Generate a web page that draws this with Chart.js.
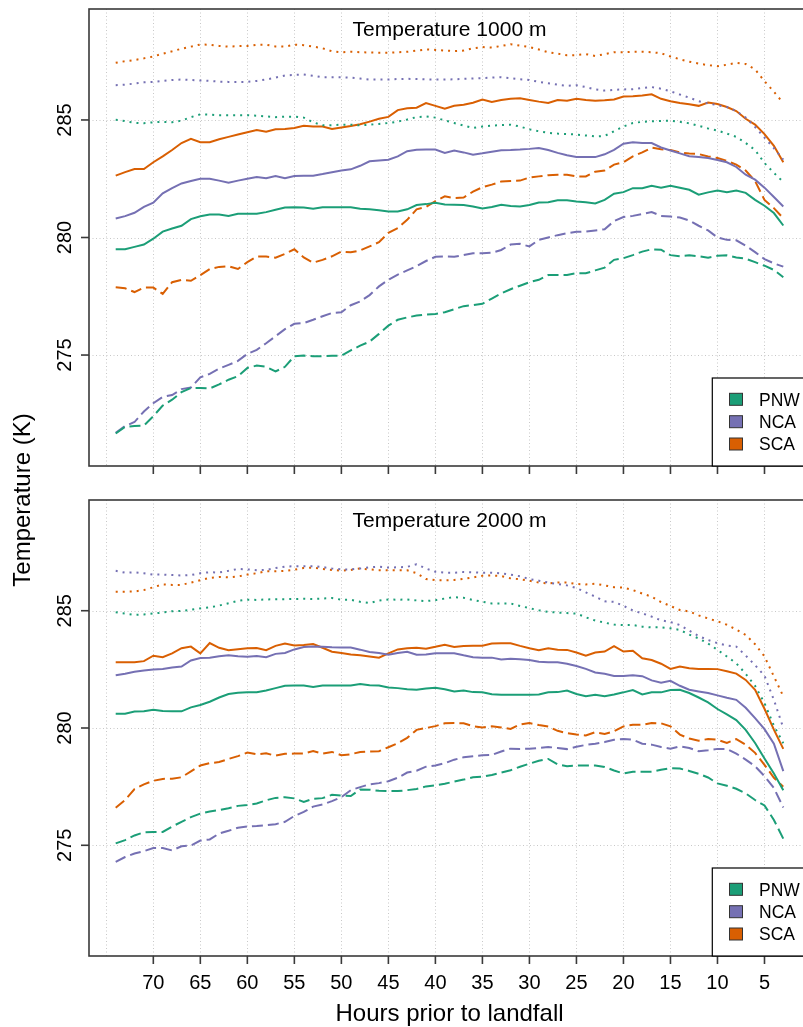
<!DOCTYPE html>
<html>
<head>
<meta charset="utf-8">
<title>Temperature prior to landfall</title>
<script src="https://cdn.jsdelivr.net/npm/chart.js@4.4.1/dist/chart.umd.min.js"></script>
<style>
  body { margin: 0; width: 803px; height: 1027px; overflow: hidden; background: #fff; position: relative; }
  canvas { position: absolute; left: 0; top: 0; }
</style>
</head>
<body>
<canvas id="panel1000" width="812" height="1027"></canvas>
<canvas id="panel2000" width="812" height="1027"></canvas>
<script>
// hours prior to landfall (x values)
var hours = [74,73,72,71,70,69,68,67,66,65, 64,63,62,61,60,59,58,57,56,55,
             54,53,52,51,50,49,48,47,46,45, 44,43,42,41,40,39,38,37,36,35,
             34,33,32,31,30,29,28,27,26,25, 24,23,22,21,20,19,18,17,16,15,
             14,13,12,11,10,9,8,7,6,5, 4,3];
var gridHours = [75,70,65,60,55,50,45,40,35,30,25,20,15,10,5,0];
var tickHours = [70,65,60,55,50,45,40,35,30,25,20,15,10,5];
var tempTicks = [275,280,285];
var regions = ['PNW','NCA','SCA'];
var panelTitles = ['Temperature 1000 m','Temperature 2000 m'];

// ---- 1000 m ----
var pnw1000Upper = [285.01,284.95,284.88,284.86,284.9,284.92,284.9,284.97,285.12,285.24,
  285.23,285.2,285.2,285.2,285.2,285.18,285.15,285.12,285.14,285.14,
  285.1,284.9,284.77,284.78,284.8,284.8,284.77,284.8,284.83,284.87,
  284.93,285.02,285.12,285.15,285.1,284.98,284.87,284.76,284.66,284.72,
  284.76,284.78,284.8,284.72,284.6,284.52,284.45,284.42,284.4,284.38,
  284.34,284.3,284.32,284.52,284.72,284.87,284.92,284.94,284.96,284.97,
  284.92,284.86,284.75,284.64,284.55,284.42,284.28,284.02,283.72,283.17,
  282.75,282.36];
var nca1000Upper = [286.48,286.5,286.55,286.6,286.62,286.66,286.7,286.72,286.7,286.68,
  286.66,286.63,286.62,286.62,286.62,286.66,286.72,286.8,286.89,286.92,
  286.93,286.88,286.82,286.82,286.82,286.8,286.76,286.72,286.72,286.72,
  286.74,286.75,286.74,286.73,286.72,286.72,286.73,286.75,286.76,286.78,
  286.8,286.82,286.78,286.73,286.7,286.62,286.56,286.5,286.45,286.48,
  286.4,286.3,286.25,286.28,286.3,286.31,286.36,286.4,286.33,286.22,
  286.08,285.95,285.8,285.7,285.63,285.55,285.38,285.1,284.7,284.25,
  283.8,283.31];
var sca1000Upper = [287.43,287.5,287.55,287.62,287.7,287.82,287.92,288.03,288.12,288.21,
  288.2,288.15,288.12,288.14,288.15,288.2,288.2,288.13,288.12,288.2,
  288.18,288.12,288.05,287.92,287.88,287.9,287.88,287.87,287.86,287.86,
  287.88,287.9,287.95,288.0,287.98,287.95,287.93,287.95,288.05,288.1,
  288.08,288.15,288.22,288.16,288.1,288.0,287.88,287.82,287.75,287.76,
  287.8,287.72,287.8,287.88,287.88,287.9,287.9,287.88,287.84,287.7,
  287.58,287.48,287.4,287.33,287.29,287.35,287.43,287.38,287.15,286.65,
  286.2,285.72];
var pnw1000Mid = [279.5,279.5,279.6,279.7,279.95,280.25,280.38,280.5,280.78,280.9,
  280.98,280.98,280.92,281.01,281.01,281.01,281.08,281.18,281.28,281.29,
  281.28,281.22,281.29,281.29,281.29,281.29,281.22,281.2,281.16,281.11,
  281.11,281.2,281.38,281.42,281.48,281.4,281.39,281.38,281.32,281.23,
  281.3,281.39,281.34,281.32,281.38,281.49,281.5,281.58,281.58,281.53,
  281.5,281.45,281.6,281.86,281.93,282.1,282.1,282.2,282.12,282.2,
  282.12,282.03,281.82,281.92,282.0,281.93,282.0,281.9,281.6,281.35,
  281.04,280.51];
var nca1000Mid = [280.81,280.91,281.05,281.3,281.48,281.88,282.1,282.3,282.4,282.5,
  282.5,282.42,282.33,282.42,282.5,282.57,282.52,282.62,282.52,282.62,
  282.63,282.63,282.7,282.78,282.85,282.9,283.05,283.24,283.28,283.31,
  283.45,283.67,283.73,283.74,283.74,283.6,283.7,283.62,283.52,283.58,
  283.65,283.71,283.72,283.74,283.77,283.81,283.72,283.6,283.5,283.42,
  283.42,283.42,283.54,283.73,283.99,284.05,284.02,284.02,283.83,283.7,
  283.58,283.46,283.42,283.38,283.3,283.2,283.0,282.67,282.46,282.12,
  281.72,281.32];
var sca1000Mid = [282.63,282.78,282.91,282.91,283.2,283.45,283.72,284.02,284.2,284.05,
  284.05,284.18,284.28,284.38,284.48,284.57,284.5,284.6,284.62,284.66,
  284.75,284.72,284.72,284.62,284.68,284.74,284.82,284.93,285.05,285.13,
  285.42,285.5,285.52,285.72,285.6,285.48,285.6,285.65,285.73,285.87,
  285.77,285.85,285.9,285.92,285.85,285.78,285.72,285.85,285.82,285.9,
  285.85,285.82,285.84,285.87,286.0,286.01,286.04,286.09,285.9,285.8,
  285.72,285.67,285.6,285.74,285.68,285.55,285.38,285.05,284.8,284.4,
  283.9,283.2];
var pnw1000Lower = [271.66,271.95,271.98,272.0,272.4,272.85,273.1,273.42,273.6,273.6,
  273.58,273.75,273.95,274.1,274.45,274.55,274.5,274.3,274.5,274.95,
  274.98,274.95,274.95,274.97,274.97,275.2,275.4,275.57,275.9,276.25,
  276.5,276.6,276.68,276.72,276.75,276.82,276.95,277.08,277.12,277.18,
  277.4,277.62,277.8,277.95,278.1,278.2,278.4,278.41,278.41,278.48,
  278.48,278.6,278.72,279.05,279.12,279.25,279.4,279.5,279.48,279.25,
  279.2,279.24,279.2,279.14,279.22,279.24,279.15,279.1,278.95,278.8,
  278.62,278.31];
var nca1000Lower = [271.69,271.98,272.15,272.6,272.95,273.22,273.3,273.55,273.62,274.05,
  274.2,274.42,274.58,274.75,275.05,275.22,275.5,275.8,276.1,276.33,
  276.36,276.5,276.65,276.79,276.82,277.12,277.28,277.55,277.92,278.2,
  278.42,278.6,278.78,279.0,279.18,279.19,279.18,279.25,279.33,279.33,
  279.35,279.47,279.7,279.73,279.62,279.9,280.0,280.1,280.18,280.24,
  280.25,280.3,280.35,280.7,280.87,280.92,281.0,281.08,280.92,280.89,
  280.85,280.72,280.5,280.3,280.0,279.9,279.88,279.65,279.38,279.08,
  278.9,278.76];
var sca1000Lower = [277.88,277.84,277.68,277.87,277.87,277.6,278.1,278.2,278.16,278.4,
  278.66,278.75,278.78,278.66,278.95,279.19,279.19,279.14,279.3,279.5,
  279.15,278.93,279.05,279.2,279.4,279.37,279.45,279.62,279.8,280.2,
  280.4,280.75,281.2,281.3,281.55,281.75,281.68,281.7,281.95,282.14,
  282.25,282.38,282.4,282.42,282.55,282.6,282.65,282.67,282.67,282.6,
  282.6,282.8,282.85,283.1,283.2,283.45,283.62,283.82,283.75,283.72,
  283.62,283.57,283.55,283.45,283.38,283.26,283.1,282.85,282.4,281.6,
  281.25,280.82];

// ---- 2000 m ----
var pnw2000Upper = [284.93,284.88,284.82,284.84,284.88,284.92,284.98,284.99,285.04,285.1,
  285.14,285.22,285.32,285.42,285.47,285.46,285.48,285.49,285.49,285.5,
  285.51,285.5,285.52,285.54,285.47,285.47,285.38,285.33,285.43,285.48,
  285.47,285.48,285.44,285.41,285.45,285.52,285.58,285.55,285.46,285.38,
  285.31,285.31,285.31,285.2,285.11,285.02,284.95,284.92,284.9,284.88,
  284.72,284.58,284.49,284.41,284.39,284.39,284.32,284.29,284.29,284.25,
  284.18,283.98,283.82,283.6,283.33,283.05,282.76,282.31,281.8,281.06,
  280.1,279.35];
var nca2000Upper = [286.7,286.62,286.64,286.6,286.54,286.54,286.52,286.5,286.52,286.6,
  286.64,286.63,286.7,286.78,286.76,286.73,286.74,286.82,286.88,286.9,
  286.9,286.9,286.86,286.8,286.76,286.76,286.8,286.85,286.88,286.84,
  286.85,286.87,286.98,286.8,286.66,286.62,286.62,286.65,286.64,286.62,
  286.62,286.59,286.54,286.47,286.35,286.28,286.2,286.14,286.08,285.97,
  285.78,285.6,285.4,285.38,285.21,285.01,284.89,284.75,284.59,284.52,
  284.39,284.15,283.92,283.75,283.62,283.52,283.47,283.09,282.68,282.23,
  281.2,280.0];
var sca2000Upper = [285.81,285.81,285.82,285.88,286.0,286.12,286.1,286.1,286.2,286.3,
  286.4,286.44,286.42,286.46,286.54,286.6,286.68,286.68,286.7,286.75,
  286.82,286.84,286.78,286.74,286.71,286.74,286.8,286.76,286.73,286.72,
  286.72,286.72,286.6,286.35,286.3,286.3,286.31,286.36,286.42,286.49,
  286.5,286.48,286.38,286.34,286.28,286.2,286.16,286.2,286.2,286.14,
  286.12,286.15,286.08,286.0,285.99,285.88,285.73,285.6,285.37,285.2,
  285.03,284.97,284.8,284.67,284.55,284.4,284.2,283.97,283.57,283.05,
  282.2,281.35];
var pnw2000Mid = [280.61,280.61,280.7,280.71,280.78,280.72,280.71,280.71,280.88,280.98,
  281.12,281.3,281.45,281.5,281.52,281.52,281.6,281.7,281.8,281.81,
  281.81,281.75,281.81,281.81,281.81,281.81,281.88,281.82,281.81,281.73,
  281.7,281.65,281.63,281.68,281.72,281.65,281.56,281.6,281.53,281.52,
  281.44,281.42,281.42,281.42,281.42,281.43,281.52,281.53,281.6,281.45,
  281.35,281.42,281.35,281.43,281.52,281.62,281.43,281.52,281.52,281.62,
  281.63,281.49,281.3,281.09,280.81,280.58,280.34,279.92,279.36,278.7,
  278.06,277.35];
var nca2000Mid = [282.25,282.31,282.4,282.45,282.49,282.52,282.58,282.62,282.88,282.98,
  283.0,283.06,283.1,283.06,283.04,283.07,283.02,283.16,283.2,283.35,
  283.45,283.47,283.46,283.44,283.43,283.43,283.34,283.24,283.2,283.12,
  283.2,283.25,283.12,283.13,283.19,283.19,283.19,283.1,283.02,283.0,
  283.0,282.92,282.95,282.93,282.9,282.82,282.8,282.8,282.74,282.64,
  282.52,282.37,282.31,282.22,282.22,282.25,282.21,282.03,281.93,282.01,
  281.8,281.63,281.56,281.49,281.39,281.29,281.2,280.86,280.42,279.95,
  279.33,278.16];
var sca2000Mid = [282.8,282.8,282.8,282.85,283.08,283.02,283.18,283.4,283.47,283.18,
  283.62,283.42,283.32,283.36,283.4,283.41,283.32,283.5,283.6,283.52,
  283.54,283.58,283.42,283.25,283.2,283.13,283.1,283.05,283.0,283.18,
  283.35,283.4,283.42,283.38,283.46,283.55,283.45,283.5,283.51,283.51,
  283.6,283.61,283.61,283.5,283.4,283.32,283.4,283.34,283.33,283.22,
  283.08,283.22,283.26,283.49,283.26,283.29,282.97,282.9,282.74,282.52,
  282.62,282.55,282.52,282.52,282.51,282.42,282.32,282.05,281.63,280.82,
  279.93,279.11];
var pnw2000Lower = [275.08,275.22,275.42,275.55,275.57,275.57,275.8,276.0,276.2,276.35,
  276.44,276.5,276.58,276.68,276.72,276.78,276.92,277.02,277.05,277.0,
  276.85,276.98,277.01,277.15,277.12,277.1,277.38,277.37,277.32,277.31,
  277.31,277.35,277.4,277.51,277.55,277.62,277.72,277.8,277.9,277.92,
  278.0,278.1,278.2,278.35,278.48,278.6,278.68,278.45,278.37,278.4,
  278.4,278.4,278.34,278.19,278.06,278.13,278.13,278.13,278.22,278.29,
  278.27,278.17,278.05,277.89,277.64,277.54,277.41,277.21,276.93,276.7,
  276.08,275.28];
var nca2000Lower = [274.29,274.5,274.65,274.75,274.88,274.88,274.78,274.96,274.99,275.2,
  275.25,275.5,275.62,275.75,275.8,275.82,275.86,275.9,276.0,276.25,
  276.42,276.65,276.74,276.88,277.05,277.35,277.48,277.6,277.65,277.73,
  277.88,278.1,278.18,278.35,278.4,278.5,278.65,278.75,278.8,278.84,
  278.85,279.0,279.12,279.11,279.12,279.15,279.19,279.15,279.1,279.2,
  279.28,279.33,279.4,279.5,279.53,279.5,279.33,279.29,279.19,279.12,
  279.22,279.15,279.01,279.05,279.11,279.11,278.91,278.65,278.37,277.95,
  277.44,276.61];
var sca2000Lower = [276.6,276.93,277.4,277.6,277.75,277.83,277.84,277.9,278.15,278.4,
  278.5,278.55,278.68,278.8,278.95,278.88,278.92,278.82,278.9,278.91,
  278.91,279.02,278.91,278.98,278.84,278.88,278.98,279.0,279.01,279.18,
  279.35,279.58,279.92,280.0,280.08,280.2,280.21,280.2,280.08,280.02,
  280.07,280.02,279.96,280.15,280.21,280.13,280.06,279.88,279.78,279.72,
  279.68,279.82,279.75,279.86,280.07,280.14,280.14,280.21,280.2,280.07,
  279.72,279.55,279.46,279.53,279.5,279.36,279.53,279.29,278.94,278.43,
  277.88,277.5];

var colors = { PNW: '#1b9e77', NCA: '#7570b3', SCA: '#d95f02' };
var dashes = { upper: [2, 5], mid: [], lower: [11, 5] };
var FONT = '"Liberation Sans", Arial, Helvetica, sans-serif';

function series(region, kind, values) {
  return {
    label: region + ' ' + kind,
    data: hours.map(function(h, i) { return { x: h, y: values[i] }; }),
    borderColor: colors[region],
    borderWidth: 2,
    borderDash: dashes[kind],
    pointRadius: 0,
    tension: 0,
    fill: false
  };
}

function line(ctx, x1, y1, x2, y2) {
  ctx.beginPath();
  ctx.moveTo(x1, y1);
  ctx.lineTo(x2, y2);
  ctx.stroke();
}

// draws grid, frame, ticks, labels and legend for one panel
function panelPlugin(title, bottomPanel) {
  return {
    id: 'panel',
    beforeDatasetsDraw: function(chart) {
      var ctx = chart.ctx, a = chart.chartArea;
      var xs = chart.scales.x, ys = chart.scales.y;
      ctx.save();
      ctx.strokeStyle = '#c8c8c8';
      ctx.lineWidth = 1;
      ctx.setLineDash([1, 2.5]);
      gridHours.forEach(function(h) {
        var px = Math.round(xs.getPixelForValue(h)) + 0.5;
        line(ctx, px, a.top, px, a.bottom);
      });
      tempTicks.forEach(function(t) {
        var py = Math.round(ys.getPixelForValue(t)) + 0.5;
        line(ctx, a.left, py, a.right, py);
      });
      ctx.restore();
    },
    afterDraw: function(chart) {
      var ctx = chart.ctx, a = chart.chartArea;
      var xs = chart.scales.x, ys = chart.scales.y;
      var midX = (a.left + a.right) / 2;
      ctx.save();
      ctx.strokeStyle = '#3a3a3a';
      ctx.lineWidth = 1.6;
      ctx.strokeRect(a.left, a.top, a.right - a.left, a.bottom - a.top);
      tickHours.forEach(function(h) {
        var px = xs.getPixelForValue(h);
        line(ctx, px, a.bottom, px, a.bottom + 8);
      });
      tempTicks.forEach(function(t) {
        var py = ys.getPixelForValue(t);
        line(ctx, a.left - 8, py, a.left, py);
      });

      ctx.fillStyle = '#000';
      ctx.textAlign = 'center';
      ctx.textBaseline = 'alphabetic';
      ctx.font = '20px ' + FONT;
      tempTicks.forEach(function(t) {
        ctx.save();
        ctx.translate(a.left - 18.3, ys.getPixelForValue(t));
        ctx.rotate(-Math.PI / 2);
        ctx.fillText(String(t), 0, 0);
        ctx.restore();
      });

      ctx.font = '21px ' + FONT;
      ctx.fillText(title, midX, a.top + 26.7);

      // legend, bottom right of the plot
      var lx = 712.3, lh = 88;
      ctx.fillStyle = '#fff';
      ctx.fillRect(lx, a.bottom - lh, a.right - lx, lh);
      ctx.strokeStyle = '#000';
      ctx.lineWidth = 1.2;
      ctx.strokeRect(lx, a.bottom - lh, a.right - lx, lh);
      ctx.font = '17.5px ' + FONT;
      ctx.textAlign = 'left';
      var rowOffsets = [66.7, 44.3, 22];
      regions.forEach(function(r, i) {
        var cy = a.bottom - rowOffsets[i];
        ctx.fillStyle = colors[r];
        ctx.fillRect(729.5, cy - 6, 13, 12);
        ctx.strokeStyle = '#333';
        ctx.lineWidth = 1;
        ctx.strokeRect(729.5, cy - 6, 13, 12);
        ctx.fillStyle = '#000';
        ctx.fillText(r, 759, cy + 6.3);
      });

      if (bottomPanel) {
        ctx.textAlign = 'center';
        ctx.font = '20px ' + FONT;
        tickHours.forEach(function(h) {
          ctx.fillText(String(h), xs.getPixelForValue(h), a.bottom + 33);
        });
        ctx.font = '24px ' + FONT;
        ctx.fillText('Hours prior to landfall', midX, a.bottom + 64.5);
        ctx.save();
        ctx.translate(29.5, 500);
        ctx.rotate(-Math.PI / 2);
        ctx.fillText('Temperature (K)', 0, 0);
        ctx.restore();
      }
      ctx.restore();
    }
  };
}

function makePanel(canvasId, padding, title, sets, bottomPanel) {
  return new Chart(document.getElementById(canvasId), {
    type: 'line',
    data: { datasets: sets },
    options: {
      responsive: false,
      animation: false,
      devicePixelRatio: 1,
      layout: { padding: padding },
      scales: {
        x: { type: 'linear', reverse: true, min: 0.16, max: 76.84, display: false },
        y: { type: 'linear', min: 270.28, max: 289.72, display: false }
      },
      plugins: {
        legend: { display: false },
        tooltip: { enabled: false }
      }
    },
    plugins: [panelPlugin(title, bottomPanel)]
  });
}

makePanel('panel1000', { left: 89, right: 2, top: 9, bottom: 561 }, panelTitles[0], [
  series('PNW', 'upper', pnw1000Upper), series('NCA', 'upper', nca1000Upper), series('SCA', 'upper', sca1000Upper),
  series('PNW', 'mid', pnw1000Mid), series('NCA', 'mid', nca1000Mid), series('SCA', 'mid', sca1000Mid),
  series('PNW', 'lower', pnw1000Lower), series('NCA', 'lower', nca1000Lower), series('SCA', 'lower', sca1000Lower)
], false);

makePanel('panel2000', { left: 89, right: 2, top: 500, bottom: 71 }, panelTitles[1], [
  series('PNW', 'upper', pnw2000Upper), series('NCA', 'upper', nca2000Upper), series('SCA', 'upper', sca2000Upper),
  series('PNW', 'mid', pnw2000Mid), series('NCA', 'mid', nca2000Mid), series('SCA', 'mid', sca2000Mid),
  series('PNW', 'lower', pnw2000Lower), series('NCA', 'lower', nca2000Lower), series('SCA', 'lower', sca2000Lower)
], true);
</script>
</body>
</html>
